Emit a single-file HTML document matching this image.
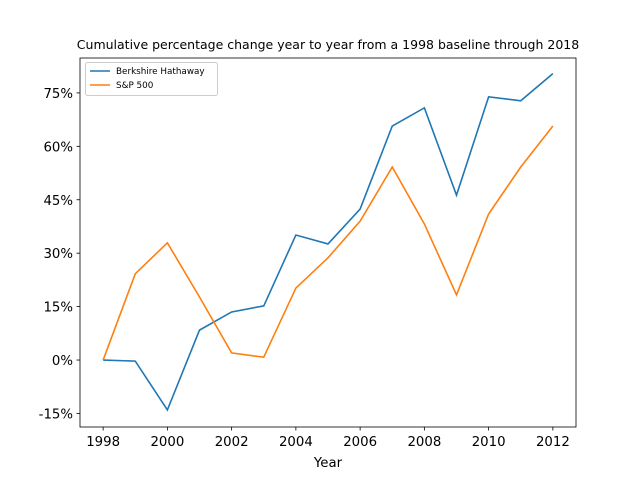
<!DOCTYPE html>
<html><head><meta charset="utf-8"><style>body{margin:0;background:#fff}svg{display:block;font-family:"DejaVu Sans","Liberation Sans",sans-serif}</style></head>
<body>
<svg id="chart" width="640" height="480" viewBox="0 0 640 480"></svg>
<script>
const years=[1998,1999,2000,2001,2002,2003,2004,2005,2006,2007,2008,2009,2010,2011,2012];
const berkshire=[0,-0.3,-14,8.4,13.5,15.2,35.1,32.6,42.4,65.7,70.8,46.3,73.9,72.8,80.4];
const sp500=[0,24.2,32.9,17.7,2.0,0.8,20.2,28.7,39.0,54.2,38.2,18.3,41.0,54.2,65.7];
const xTicks=[1998,2000,2002,2004,2006,2008,2010,2012];
const yTicks=[-15,0,15,30,45,60,75];
const L=80,R=576,T=58,B=427;
const xMin=1997.28,xMax=2012.72,yMin=-18.8,yMax=84.8;
const X=v=>L+(v-xMin)/(xMax-xMin)*(R-L);
const Y=v=>B-(v-yMin)/(yMax-yMin)*(B-T);
const svg=document.getElementById('chart');
const NS='http://www.w3.org/2000/svg';
function mk(tag,attrs,parent){const e=document.createElementNS(NS,tag);for(const k in attrs)e.setAttribute(k,attrs[k]);(parent||svg).appendChild(e);return e;}
let t=mk('text',{x:328,y:49,'text-anchor':'middle','font-size':12.5});t.textContent='Cumulative percentage change year to year from a 1998 baseline through 2018';


xTicks.forEach(v=>{const g=mk('g',{});


mk('line',{x1:X(v),x2:X(v),y1:B,y2:B+3.5,stroke:'#000','stroke-width':0.8},g);
const tx=mk('text',{x:X(v),y:B+19,'text-anchor':'middle','font-size':13.3},g);tx.textContent=v;});
yTicks.forEach(v=>{const g=mk('g',{});


mk('line',{x1:L-3.5,x2:L,y1:Y(v),y2:Y(v),stroke:'#000','stroke-width':0.8},g);
const tx=mk('text',{x:L-7,y:Y(v)+5,'text-anchor':'end','font-size':13.3},g);tx.textContent=(v<0?'-':'')+Math.abs(v)+'%';});
t=mk('text',{x:328,y:467,'text-anchor':'middle','font-size':13.3});t.textContent='Year';


function line(data,color,name){const p=mk('polyline',{points:data.map((d,i)=>X(years[i])+','+Y(d)).join(' '),fill:'none',stroke:color,'stroke-width':1.6});

}
line(berkshire,'#1f77b4','berkshire-line');
line(sp500,'#ff7f0e','sp500-line');
const fr=mk('rect',{x:L,y:T,width:R-L,height:B-T,fill:'none',stroke:'#000','stroke-width':0.8});


const lg=mk('g',{});


mk('rect',{x:85.5,y:62.5,width:132,height:33,rx:2,fill:'#fff',stroke:'#ccc'},lg);
[['Berkshire Hathaway','#1f77b4',74],['S&P 500','#ff7f0e',88]].forEach(([n,c,y])=>{
mk('line',{x1:90,x2:110,y1:y-3,y2:y-3,stroke:c,'stroke-width':1.6},lg);
const tx=mk('text',{x:116,y:y,'font-size':8.8},lg);tx.textContent=n;});
</script>
</body></html>
